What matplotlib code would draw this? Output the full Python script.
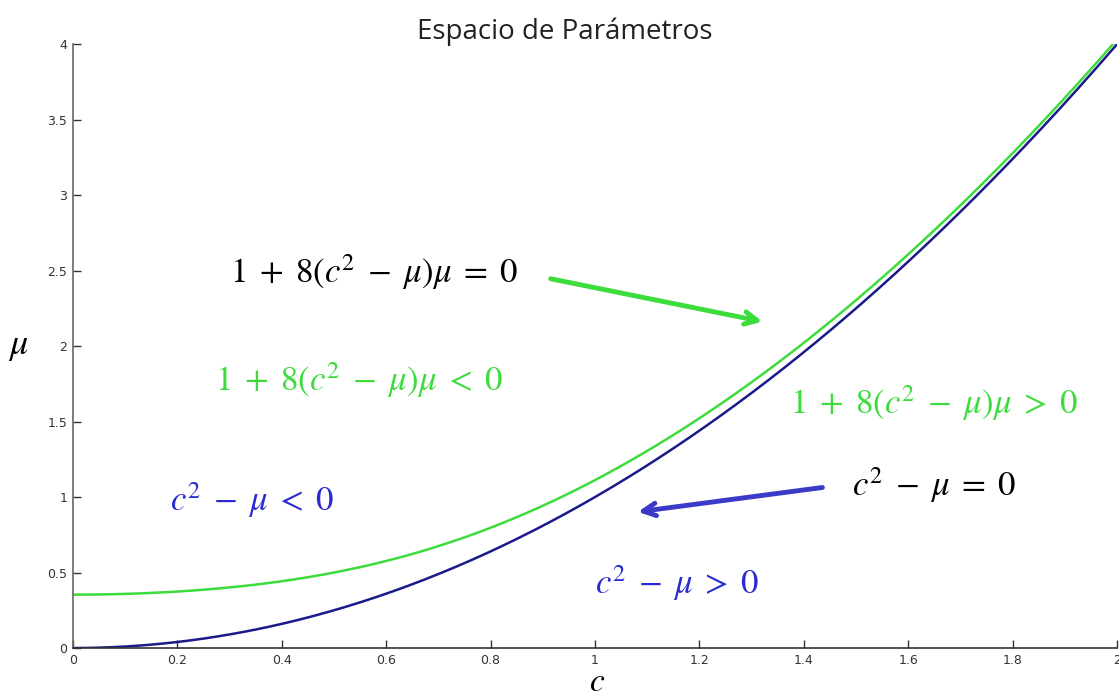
import numpy as np
import matplotlib
matplotlib.use("Agg")
import matplotlib.pyplot as plt

plt.rcParams['mathtext.fontset'] = 'stix'

# parameter range and the two boundary curves in the (c, mu) plane
c = np.linspace(0, 2, 400)
mu_disc = (c**2 + np.sqrt(c**4 + 0.5)) / 2   # 1 + 8(c^2 - mu)mu = 0
mu_par = c**2                                # c^2 - mu = 0

x_ticks = [0, 0.2, 0.4, 0.6, 0.8, 1, 1.2, 1.4, 1.6, 1.8, 2]
y_ticks = [0, 0.5, 1, 1.5, 2, 2.5, 3, 3.5, 4]
x_tick_labels = ['0', '0.2', '0.4', '0.6', '0.8', '1', '1.2', '1.4', '1.6', '1.8', '2']
y_tick_labels = ['0', '0.5', '1', '1.5', '2', '2.5', '3', '3.5', '4']

green = '#3ddc3d'
navy = '#1a1a8a'
blue = '#2a2ad0'

fig = plt.figure(figsize=(11.19, 6.98), dpi=100)
ax = fig.add_axes([0.0652, 0.0716, 0.933, 0.865])

ax.plot(c, mu_disc, color=green, lw=1.8)
ax.plot(c, mu_par, color=navy, lw=1.8)

ax.set_xlim(0, 2)
ax.set_ylim(0, 4)
ax.set_xticks(x_ticks)
ax.set_xticklabels(x_tick_labels)
ax.set_yticks(y_ticks)
ax.set_yticklabels(y_tick_labels)
ax.tick_params(direction='in', length=6, width=1, labelsize=9, colors='#333333',
               labelcolor='#333333', pad=4)
ax.spines['top'].set_visible(False)
ax.spines['right'].set_visible(False)
ax.spines['left'].set_color('#666666')
ax.spines['bottom'].set_color('#333333')
ax.spines['left'].set_linewidth(1.2)
ax.spines['bottom'].set_linewidth(1.2)

ax.set_xlabel(r'$c$', fontsize=24, va='baseline')
ax.xaxis.set_label_coords(0.502, -0.072)
ax.set_ylabel(r'$\mu$', fontsize=26, rotation=0, va='center')
ax.yaxis.set_label_coords(-0.052, 0.5)

fig.text(0.505, 0.955, 'Espacio de Parámetros', ha='center', va='center',
         fontsize=20, family='Open Sans', color='#222222')

sp = r'\;'
fs = 25
eq_disc = r'$1' + sp + '+' + sp + r'8(c^2' + sp + '-' + sp + r'\mu)\mu' + sp + '{rel}' + sp + '0$'
eq_par = r'$c^2' + sp + '-' + sp + r'\mu' + sp + '{rel}' + sp + '0$'

ax.text(0.30, 2.49, eq_disc.format(rel='='), fontsize=fs, color='black', va='center')
ax.text(0.272, 1.775, eq_disc.format(rel='<'), fontsize=fs, color=green, va='center')
ax.text(1.374, 1.62, eq_disc.format(rel='>'), fontsize=fs, color=green, va='center')
ax.text(0.186, 0.98, eq_par.format(rel='<'), fontsize=fs, color=blue, va='center')
ax.text(1.0, 0.43, eq_par.format(rel='>'), fontsize=fs, color=blue, va='center')
ax.text(1.492, 1.08, eq_par.format(rel='='), fontsize=fs, color='black', va='center')

ax.annotate('', xy=(1.326, 2.159), xytext=(0.91, 2.45),
            arrowprops=dict(arrowstyle='->,head_length=0.9,head_width=0.45',
                            color=green, lw=3.5))
ax.annotate('', xy=(1.077, 0.90), xytext=(1.441, 1.066),
            arrowprops=dict(arrowstyle='->,head_length=0.9,head_width=0.45',
                            color='#3b3bc8', lw=3.5))

fig.savefig('out.png', dpi=100)
